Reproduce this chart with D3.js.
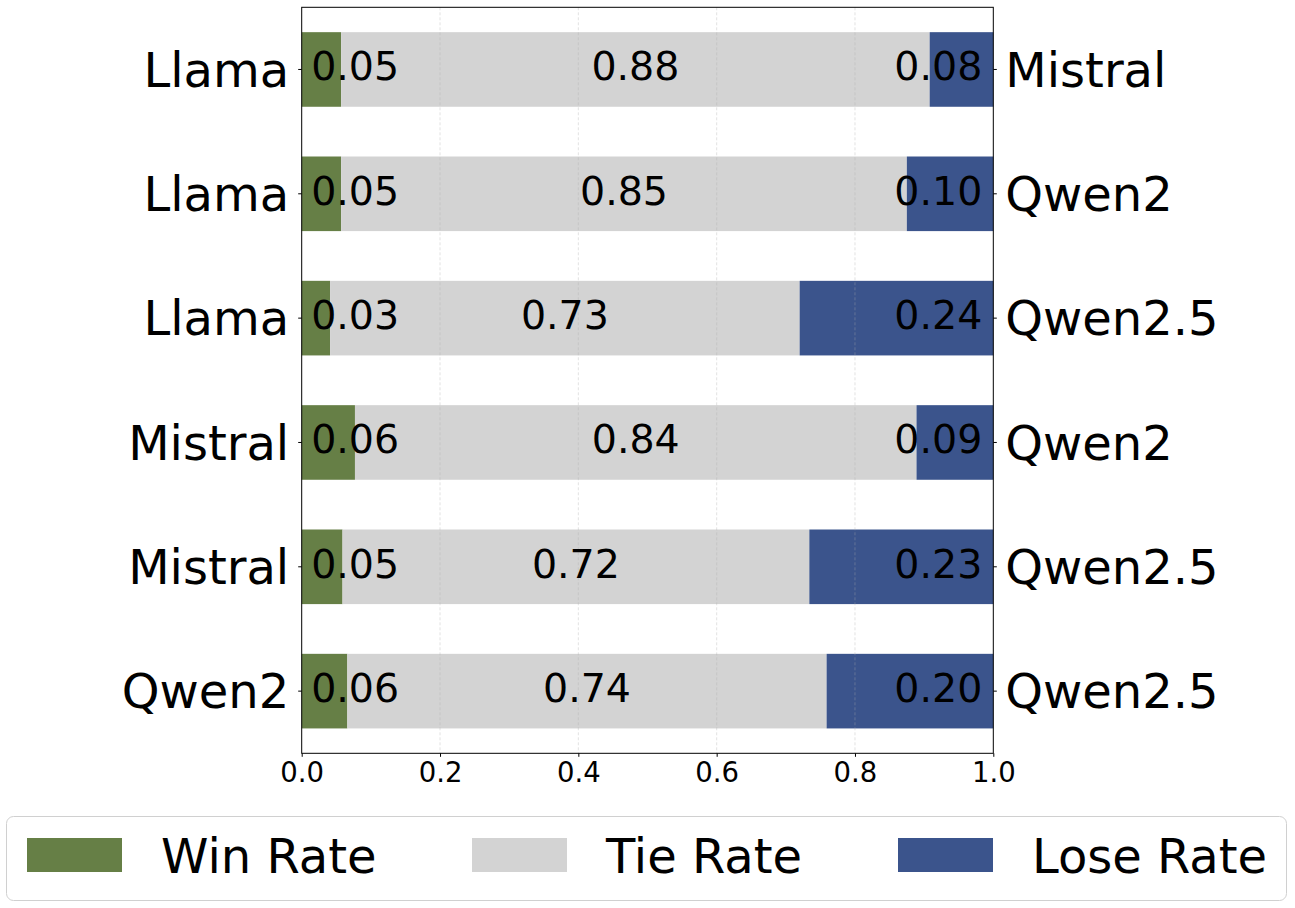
<!DOCTYPE html>
<html>
<head>
<meta charset="utf-8">
<script src="https://cdn.jsdelivr.net/npm/d3@7"></script>
<style>
  html, body { margin: 0; padding: 0; background: #fff; }
  svg { display: block; font-family: "DejaVu Sans", sans-serif; }
</style>
</head>
<body>
<svg id="chart" width="1295" height="908"></svg>
<script>
// ---- data ----
const leftModels  = ["Llama", "Llama", "Llama", "Mistral", "Mistral", "Qwen2"];
const rightModels = ["Mistral", "Qwen2", "Qwen2.5", "Qwen2", "Qwen2.5", "Qwen2.5"];
// bar extents
const winRate  = [0.057, 0.057, 0.041, 0.077, 0.059, 0.066];
const tieRate  = [0.851, 0.818, 0.679, 0.812, 0.675, 0.693];
const loseRate = [0.092, 0.125, 0.280, 0.111, 0.266, 0.241];
// printed labels
const winLabel  = ["0.05", "0.05", "0.03", "0.06", "0.05", "0.06"];
const tieLabel  = ["0.88", "0.85", "0.73", "0.84", "0.72", "0.74"];
const loseLabel = ["0.08", "0.10", "0.24", "0.09", "0.23", "0.20"];
const xTicks = [0, 0.2, 0.4, 0.6, 0.8, 1.0];
const seriesNames = ["Win Rate", "Tie Rate", "Lose Rate"];
const seriesColors = ["#667f46", "#d3d3d3", "#3b548c"];

// ---- layout ----
const svg = d3.select("#chart");
const L = 301.7, R = 993.3, T = 7.3, B = 753.3;
const x = d3.scaleLinear().domain([0, 1]).range([L, R]);
const rows = d3.range(leftModels.length);
const y = d3.scaleBand().domain(rows).range([T, B]).paddingInner(0.4).paddingOuter(0.2);

const data = rows.map(i => {
  const w = winRate[i], t = tieRate[i], l = loseRate[i];
  return {
    i,
    segs: [
      {k: 0, x0: 0, x1: w},
      {k: 1, x0: w, x1: w + t},
      {k: 2, x0: w + t, x1: w + t + l}
    ]
  };
});

// bars
const g = svg.append("g");
data.forEach(d => {
  g.selectAll(null).data(d.segs).enter().append("rect")
    .attr("x", s => x(s.x0))
    .attr("y", y(d.i))
    .attr("width", s => Math.max(0, Math.min(x(s.x1), R) - x(s.x0)))
    .attr("height", y.bandwidth())
    .attr("fill", s => seriesColors[s.k]);
});

// grid (on top, faint dashed)
svg.append("g").selectAll("line").data(xTicks.slice(1, -1)).enter().append("line")
  .attr("x1", d => x(d)).attr("x2", d => x(d))
  .attr("y1", T).attr("y2", B)
  .attr("stroke", "#b0b0b0").attr("stroke-opacity", 0.35)
  .attr("stroke-width", 1).attr("stroke-dasharray", "3,2");

// value labels
const lab = svg.append("g").attr("font-size", 39.5).attr("fill", "#000");
data.forEach(d => {
  const cy = y(d.i) + y.bandwidth() / 2 + 11;
  lab.append("text").attr("x", x(0) + 9.5).attr("y", cy)
    .attr("text-anchor", "start").text(winLabel[d.i]);
  const tc = (x(d.segs[1].x0) + x(d.segs[1].x1)) / 2;
  lab.append("text").attr("x", tc).attr("y", cy)
    .attr("text-anchor", "middle").text(tieLabel[d.i]);
  lab.append("text").attr("x", x(1) - 11).attr("y", cy)
    .attr("text-anchor", "end").text(loseLabel[d.i]);
});

// frame
svg.append("rect").attr("x", L).attr("y", T).attr("width", R - L).attr("height", B - T)
  .attr("fill", "none").attr("stroke", "#000").attr("stroke-width", 1);

// left y axis
const yl = svg.append("g").attr("transform", `translate(${L},0)`);
yl.call(d3.axisLeft(y).tickSize(3.5).tickPadding(9).tickFormat(i => leftModels[i]));
yl.select(".domain").remove();
yl.selectAll("text").attr("font-size", 48).attr("font-family", "DejaVu Sans")
  .attr("dy", "0.36em").attr("fill", "#000");

// right y axis
const yr = svg.append("g").attr("transform", `translate(${R},0)`);
yr.call(d3.axisRight(y).tickSize(3.5).tickPadding(8.5).tickFormat(i => rightModels[i]));
yr.select(".domain").remove();
yr.selectAll("text").attr("font-size", 48).attr("font-family", "DejaVu Sans")
  .attr("dy", "0.36em").attr("fill", "#000");

// x axis
const xa = svg.append("g").attr("transform", `translate(0,${B})`);
xa.call(d3.axisBottom(x).tickValues(xTicks).tickSize(3.5).tickPadding(5.5).tickFormat(d3.format(".1f")));
xa.select(".domain").remove();
xa.selectAll("text").attr("font-size", 27.5).attr("font-family", "DejaVu Sans")
  .attr("dy", "0.71em").attr("fill", "#000");

// legend
const lg = svg.append("g");
lg.append("rect").attr("x", 6.5).attr("y", 816.5).attr("width", 1280).attr("height", 84)
  .attr("rx", 7).attr("fill", "#fff").attr("stroke", "#d0d0d0").attr("stroke-width", 1);
const legX = [27, 472, 898];
seriesNames.forEach((n, k) => {
  lg.append("rect").attr("x", legX[k]).attr("y", 838).attr("width", 95).attr("height", 34)
    .attr("fill", seriesColors[k]);
  lg.append("text").attr("x", legX[k] + 134).attr("y", 872.5)
    .attr("font-size", 48).attr("fill", "#000").text(n);
});
</script>
</body>
</html>
